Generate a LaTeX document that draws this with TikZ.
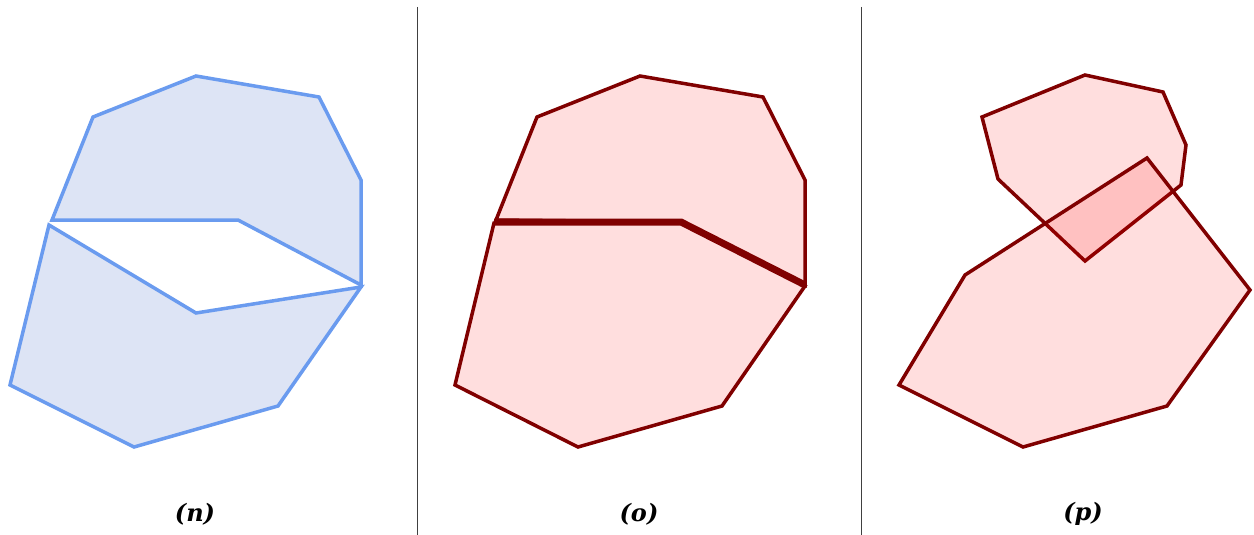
\documentclass[tikz,border=0pt]{standalone}
\usepackage{fontspec}
\newfontfamily\labfont{DejaVu Serif}
\definecolor{bluefill}{HTML}{DDE4F5}
\definecolor{bluestroke}{HTML}{6A9BEF}
\definecolor{maroon}{HTML}{800000}
\tikzset{
  bluepoly/.style={draw=bluestroke, fill=bluefill, line width=3.5pt, line join=miter},
  redpoly/.style={draw=maroon, fill=red, fill opacity=0.13, draw opacity=1, line width=3.5pt, line join=miter},
  seam/.style={draw=maroon, line width=7pt},
  divider/.style={draw=black!75, line width=1pt},
  caption/.style={font=\labfont\bfseries\itshape\fontsize{24}{28}\selectfont, inner sep=0pt}
}
\begin{document}
\begin{tikzpicture}[x=1pt,y=-1pt]
\useasboundingbox (0,0) rectangle (1254,535);
% panel (n)
\path[bluepoly] (52,220) -- (93,117) -- (196,76) -- (319,97) -- (361,180) -- (361,285) -- (238,220) -- cycle;
\path[bluepoly] (49,225) -- (196,313) -- (361,287) -- (278,406) -- (134,447) -- (10,385) -- cycle;
% panel (o)
\path[redpoly] (496,220) -- (537,117) -- (640,76) -- (763,97) -- (805,180) -- (805,285) -- (682,222) -- cycle;
\path[redpoly] (494,223) -- (681,223) -- (805,286) -- (722,406) -- (578,447) -- (455,385) -- cycle;
\draw[seam] (494,222) -- (681,222) -- (805,285);
% panel (p)
\path[redpoly] (982,117) -- (1085,75) -- (1163,92) -- (1186,145) -- (1181,185) -- (1085,261) -- (998,179) -- cycle;
\path[redpoly] (1147,158) -- (1250,290) -- (1167,406) -- (1023,447) -- (899,385) -- (965,275) -- cycle;
% dividers
\coordinate (d1a) at (417,7);
\coordinate (d1b) at (417,535);
\coordinate (d2a) at (861,7);
\coordinate (d2b) at (861,535);
\draw[divider] (d1a) -- (d1b);
\draw[divider] (d2a) -- (d2b);
% captions
\node[caption] (cn) at (195,514) {(n)};
\node[caption] (co) at (639,514) {(o)};
\node[caption] (cp) at (1083,514) {(p)};
\end{tikzpicture}
\end{document}
